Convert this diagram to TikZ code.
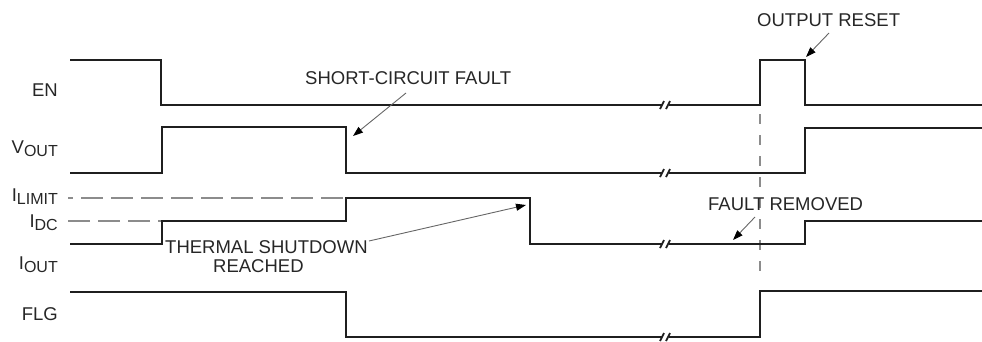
\documentclass[tikz,border=0pt]{standalone}
\usepackage{fontspec}
\setmainfont{Liberation Sans}
\usetikzlibrary{arrows.meta}
\newcommand{\subtxt}[1]{\raisebox{-3.5pt}{\fontsize{16}{16}\selectfont #1}}
\begin{document}
\begin{tikzpicture}[x=1pt,y=-1pt,
  sig/.style={line width=2pt,draw=black!88,line join=miter,line cap=butt},
  refdash/.style={line width=1.4pt,draw=black!45,dash pattern=on 22pt off 8pt},
  vdashline/.style={line width=1.6pt,draw=black!45,dash pattern=on 10pt off 11pt},
  ann/.style={line width=0.9pt,draw=black!60,-{Triangle[length=10pt,width=7pt,color=black]}},
  lbl/.style={inner sep=0pt,font=\fontsize{18.5}{20}\selectfont,text=black!85},
  brk/.style={line width=1.8pt,draw=black!88},
]
\useasboundingbox (0,0) rectangle (982,341);

% reference lines
\draw[refdash,dash phase=17pt] (68,198) -- (346,198);
\draw[refdash] (68,221) -- (162,221);
\draw[vdashline] (760,114) -- (760,282);

% EN
\draw[sig] (70,60) -- (161,60) -- (161,105) -- (662,105);
\draw[sig] (669,105) -- (760,105) -- (760,60) -- (805,60) -- (805,105) -- (982,105);
% VOUT
\draw[sig] (70,173) -- (162,173) -- (162,127) -- (346,127) -- (346,173) -- (662,173);
\draw[sig] (669,173) -- (805,173) -- (805,128) -- (982,128);
% IOUT
\draw[sig] (70,244) -- (162,244) -- (162,221) -- (346,221) -- (346,198) -- (530,198) -- (530,244) -- (662,244);
\draw[sig] (669,244) -- (805,244) -- (805,221) -- (982,221);
% FLG
\draw[sig] (70,292) -- (346,292) -- (346,337) -- (662,337);
\draw[sig] (669,337) -- (760,337) -- (760,291) -- (982,291);

% break marks
\foreach \yy in {105,173,244,337}{
  \draw[brk] (660,\yy+4) -- (664,\yy-4) (666,\yy+4) -- (670,\yy-4);
}

% signal labels
\node[lbl,anchor=base east] (en) at (58,96) {EN};
\node[lbl,anchor=base east] (vout) at (58,153) {V\subtxt{OUT}};
\node[lbl,anchor=base east] (ilim) at (58,201) {I\subtxt{LIMIT}};
\node[lbl,anchor=base east] (idc) at (58,227) {I\subtxt{DC}};
\node[lbl,anchor=base east] (iout) at (58,269) {I\subtxt{OUT}};
\node[lbl,anchor=base east] (flg) at (58,320) {FLG};

% annotations
\node[lbl,anchor=base west] (scf) at (305,84) {SHORT-CIRCUIT FAULT};
\node[lbl,anchor=base west] (ors) at (757,26) {OUTPUT RESET};
\node[lbl,anchor=base west] (tsd) at (165,253) {THERMAL SHUTDOWN};
\node[lbl,anchor=base west] (tsr) at (213,272) {REACHED};
\node[lbl,anchor=base west] (frm) at (708,210) {FAULT REMOVED};

\coordinate (scfA) at (406,93);
\coordinate (scfB) at (353,136);
\coordinate (orsA) at (829,33);
\coordinate (orsB) at (806,57);
\coordinate (tsdA) at (369,241);
\coordinate (tsdB) at (526,205);
\coordinate (frmA) at (755,217);
\coordinate (frmB) at (733,240);

\draw[ann] (scfA) -- (scfB);
\draw[ann] (orsA) -- (orsB);
\draw[ann] (tsdA) -- (tsdB);
\draw[ann] (frmA) -- (frmB);
\end{tikzpicture}
\end{document}
